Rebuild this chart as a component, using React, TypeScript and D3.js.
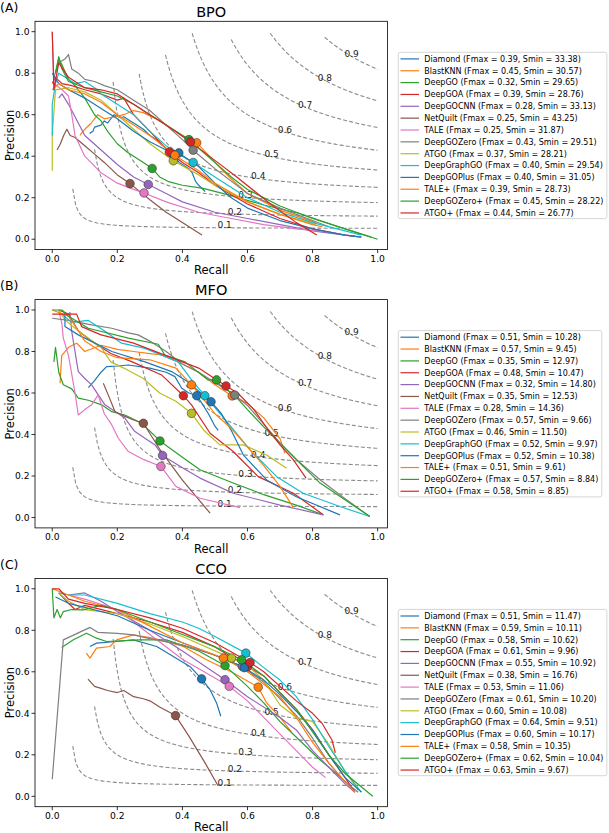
import React from "react";
import * as d3 from "d3";

const methods = ["Diamond","BlastKNN","DeepGO","DeepGOA","DeepGOCNN","NetQuilt","TALE","DeepGOZero","ATGO","DeepGraphGO","DeepGOPlus","TALE+","DeepGOZero+","ATGO+"];
const colors = ["#1f77b4","#ff7f0e","#2ca02c","#d62728","#9467bd","#8c564b","#e377c2","#7f7f7f","#bcbd22","#17becf","#1f77b4","#ff7f0e","#2ca02c","#d62728"];

const bpoFmax = ["0.39","0.45","0.32","0.39","0.28","0.25","0.25","0.43","0.37","0.40","0.40","0.39","0.45","0.44"];
const bpoSmin = ["33.38","30.57","29.65","28.76","33.13","43.25","31.87","29.51","28.21","29.54","31.05","28.73","28.22","26.77"];
const mfoFmax = ["0.51","0.57","0.35","0.48","0.32","0.35","0.28","0.57","0.46","0.52","0.52","0.51","0.57","0.58"];
const mfoSmin = ["10.28","9.45","12.97","10.47","14.80","12.53","14.36","9.66","11.50","9.97","10.38","9.61","8.84","8.85"];
const ccoFmax = ["0.51","0.59","0.58","0.61","0.55","0.38","0.53","0.61","0.60","0.64","0.60","0.58","0.62","0.63"];
const ccoSmin = ["11.47","10.11","10.62","9.96","10.92","16.76","11.06","10.20","10.08","9.51","10.17","10.35","10.04","9.67"];

const ticks = [0, 0.2, 0.4, 0.6, 0.8, 1.0];
const isoF = [0.1, 0.2, 0.3, 0.4, 0.5, 0.6, 0.7, 0.8, 0.9];
const isoStartRecall = [0.063, 0.13, 0.187, 0.267, 0.348, 0.43, 0.55, 0.67, 0.837];
const isoLabelRecall = [0.53, 0.561, 0.594, 0.633, 0.674, 0.715, 0.777, 0.838, 0.92];

type P = [number, number];

const bpoDots: P[] = [[0.37,0.41],[0.444,0.465],[0.307,0.341],[0.36,0.42],[0.295,0.264],[0.239,0.268],[0.282,0.223],[0.433,0.429],[0.372,0.378],[0.433,0.37],[0.389,0.416],[0.377,0.405],[0.42,0.48],[0.425,0.469]];
const mfoDots: P[] = [[0.444,0.587],[0.553,0.586],[0.331,0.369],[0.403,0.587],[0.339,0.299],[0.28,0.454],[0.334,0.246],[0.561,0.59],[0.428,0.502],[0.469,0.587],[0.488,0.558],[0.428,0.639],[0.505,0.663],[0.534,0.634]];
const ccoDots: P[] = [[0.459,0.566],[0.633,0.526],[0.531,0.63],[0.6,0.625],[0.531,0.562],[0.379,0.389],[0.544,0.53],[0.584,0.626],[0.551,0.666],[0.595,0.69],[0.59,0.62],[0.526,0.666],[0.582,0.658],[0.608,0.645]];

const bpoCurves: P[][] = [
  // Diamond
  [[0.115,0.51],[0.125,0.52],[0.13,0.54],[0.15,0.55],[0.16,0.57],[0.17,0.56],[0.19,0.6],[0.21,0.585],[0.22,0.59],[0.24,0.57],[0.26,0.55],[0.28,0.53],[0.3,0.5],[0.32,0.48],[0.34,0.45],[0.37,0.41],[0.39,0.37],[0.4,0.36],[0.42,0.34],[0.43,0.32],[0.44,0.28],[0.45,0.26],[0.47,0.23]],
  // BlastKNN
  [[0.085,0.5],[0.1,0.53],[0.12,0.56],[0.14,0.6],[0.16,0.58],[0.19,0.59],[0.22,0.6],[0.25,0.62],[0.28,0.61],[0.32,0.58],[0.36,0.54],[0.4,0.5],[0.444,0.465],[0.5,0.37],[0.55,0.29],[0.6,0.22],[0.7,0.14],[0.81,0.08]],
  // DeepGO
  [[0.01,0.8],[0.02,0.87],[0.03,0.84],[0.05,0.77],[0.07,0.74],[0.1,0.68],[0.13,0.6],[0.15,0.57],[0.17,0.52],[0.2,0.46],[0.23,0.42],[0.25,0.4],[0.28,0.37],[0.307,0.341],[0.33,0.3],[0.36,0.276],[0.4,0.26],[0.464,0.245],[0.55,0.21],[0.65,0.165],[0.76,0.124],[0.88,0.06],[0.98,0.01]],
  // DeepGOA
  [[0.0,0.75],[0.01,0.78],[0.03,0.75],[0.06,0.74],[0.1,0.72],[0.15,0.7],[0.2,0.67],[0.22,0.68],[0.25,0.6],[0.3,0.52],[0.36,0.42],[0.4,0.37],[0.45,0.32],[0.5,0.26],[0.6,0.17],[0.7,0.1],[0.8,0.05],[0.9,0.02],[0.93,0.015]],
  // DeepGOCNN
  [[0.02,0.68],[0.03,0.7],[0.05,0.65],[0.08,0.56],[0.1,0.5],[0.15,0.43],[0.2,0.36],[0.25,0.3],[0.295,0.264],[0.35,0.22],[0.4,0.18],[0.5,0.13],[0.6,0.1],[0.7,0.07],[0.8,0.04],[0.9,0.02],[0.95,0.01]],
  // NetQuilt
  [[0.015,0.43],[0.025,0.46],[0.035,0.5],[0.045,0.53],[0.055,0.5],[0.07,0.49],[0.1,0.45],[0.13,0.41],[0.16,0.37],[0.2,0.31],[0.239,0.268],[0.3,0.19],[0.35,0.13],[0.4,0.08],[0.46,0.02]],
  // TALE
  [[0.0,1.0],[0.005,0.75],[0.03,0.72],[0.05,0.69],[0.06,0.6],[0.07,0.5],[0.1,0.4],[0.15,0.32],[0.2,0.27],[0.25,0.24],[0.282,0.223],[0.35,0.18],[0.45,0.13],[0.55,0.1],[0.65,0.07],[0.75,0.05],[0.82,0.04]],
  // DeepGOZero
  [[0.005,0.78],[0.02,0.85],[0.04,0.87],[0.05,0.89],[0.06,0.82],[0.08,0.8],[0.1,0.77],[0.13,0.76],[0.16,0.74],[0.2,0.72],[0.25,0.67],[0.3,0.62],[0.35,0.55],[0.4,0.48],[0.433,0.429],[0.5,0.34],[0.55,0.28],[0.6,0.22],[0.7,0.15],[0.8,0.09],[0.85,0.06]],
  // ATGO
  [[0.0,0.33],[0.0,0.5],[0.01,0.72],[0.05,0.73],[0.1,0.71],[0.15,0.67],[0.2,0.6],[0.25,0.53],[0.3,0.46],[0.372,0.378],[0.45,0.31],[0.5,0.26],[0.6,0.18],[0.7,0.12],[0.81,0.07]],
  // DeepGraphGO
  [[0.0,0.5],[0.0,0.65],[0.01,0.75],[0.02,0.8],[0.04,0.78],[0.07,0.75],[0.1,0.76],[0.13,0.73],[0.15,0.7],[0.2,0.65],[0.25,0.6],[0.3,0.52],[0.35,0.45],[0.4,0.4],[0.433,0.37],[0.5,0.3],[0.6,0.2],[0.7,0.13],[0.8,0.08],[0.9,0.04],[0.95,0.02]],
  // DeepGOPlus
  [[0.0,0.8],[0.02,0.75],[0.05,0.72],[0.1,0.68],[0.15,0.63],[0.2,0.58],[0.25,0.52],[0.3,0.47],[0.35,0.43],[0.389,0.416],[0.45,0.35],[0.5,0.27],[0.55,0.2],[0.6,0.15],[0.7,0.09],[0.8,0.05],[0.9,0.02],[0.95,0.01]],
  // TALE+
  [[0.0,0.72],[0.02,0.75],[0.05,0.72],[0.1,0.7],[0.15,0.66],[0.2,0.6],[0.25,0.55],[0.3,0.5],[0.377,0.405],[0.45,0.33],[0.5,0.27],[0.6,0.18],[0.7,0.12],[0.8,0.07],[0.83,0.06]],
  // DeepGOZero+
  [[0.01,0.8],[0.02,0.88],[0.03,0.82],[0.05,0.76],[0.1,0.73],[0.15,0.71],[0.2,0.69],[0.25,0.65],[0.3,0.6],[0.35,0.55],[0.42,0.48],[0.5,0.37],[0.55,0.3],[0.6,0.24],[0.7,0.16],[0.8,0.1],[0.9,0.05],[1.0,0.0]],
  // ATGO+
  [[0.0,1.0],[0.005,0.72],[0.02,0.85],[0.05,0.78],[0.1,0.73],[0.15,0.72],[0.2,0.7],[0.25,0.65],[0.3,0.6],[0.35,0.55],[0.425,0.469],[0.5,0.38],[0.567,0.3],[0.669,0.172],[0.75,0.08],[0.813,0.02]],
];

const mfoCurves: P[][] = [
  // Diamond
  [[0.111,0.626],[0.13,0.66],[0.15,0.7],[0.167,0.727],[0.2,0.73],[0.234,0.735],[0.3,0.72],[0.35,0.7],[0.377,0.679],[0.398,0.623],[0.42,0.6],[0.444,0.587],[0.46,0.55],[0.48,0.5],[0.5,0.44],[0.51,0.42]],
  // BlastKNN
  [[0.024,0.647],[0.029,0.78],[0.05,0.82],[0.075,0.84],[0.1,0.8],[0.15,0.83],[0.2,0.81],[0.25,0.8],[0.3,0.79],[0.336,0.783],[0.4,0.74],[0.45,0.7],[0.5,0.64],[0.553,0.586],[0.6,0.55],[0.65,0.48],[0.7,0.38],[0.715,0.31]],
  // DeepGO
  [[0.005,0.75],[0.01,0.82],[0.02,0.7],[0.034,0.64],[0.06,0.62],[0.08,0.575],[0.111,0.565],[0.152,0.543],[0.183,0.51],[0.223,0.494],[0.275,0.454],[0.331,0.369],[0.4,0.29],[0.454,0.23],[0.55,0.17],[0.65,0.11],[0.75,0.06],[0.833,0.013]],
  // DeepGOA
  [[0.02,1.0],[0.05,0.98],[0.08,0.9],[0.12,0.85],[0.18,0.79],[0.244,0.751],[0.336,0.687],[0.403,0.587],[0.428,0.543],[0.485,0.406],[0.556,0.318],[0.633,0.197],[0.741,0.117],[0.833,0.013]],
  // DeepGOCNN
  [[0.054,0.99],[0.06,0.895],[0.08,0.703],[0.1,0.67],[0.121,0.639],[0.162,0.543],[0.223,0.479],[0.254,0.414],[0.316,0.35],[0.339,0.299],[0.4,0.24],[0.454,0.19],[0.556,0.117],[0.7,0.06],[0.833,0.013]],
  // NetQuilt
  [[0.157,0.647],[0.172,0.591],[0.193,0.51],[0.22,0.49],[0.25,0.47],[0.28,0.454],[0.33,0.33],[0.4,0.18],[0.485,0.021]],
  // TALE
  [[0.02,1.0],[0.03,0.93],[0.034,0.864],[0.05,0.78],[0.07,0.6],[0.08,0.494],[0.1,0.52],[0.121,0.543],[0.141,0.591],[0.16,0.5],[0.183,0.446],[0.203,0.382],[0.234,0.318],[0.28,0.28],[0.334,0.246],[0.38,0.15],[0.454,0.093],[0.577,0.048]],
  // DeepGOZero
  [[0.0,0.96],[0.05,0.95],[0.121,0.928],[0.183,0.912],[0.234,0.89],[0.264,0.88],[0.3,0.85],[0.35,0.8],[0.4,0.74],[0.45,0.7],[0.5,0.65],[0.561,0.59],[0.6,0.54],[0.65,0.45],[0.7,0.36],[0.75,0.28],[0.823,0.182],[0.9,0.09],[0.976,0.005]],
  // ATGO
  [[0.02,1.0],[0.04,0.95],[0.08,0.9],[0.15,0.82],[0.18,0.75],[0.22,0.72],[0.28,0.67],[0.33,0.6],[0.38,0.56],[0.428,0.502],[0.465,0.422],[0.515,0.35],[0.587,0.35],[0.66,0.3],[0.72,0.238]],
  // DeepGraphGO
  [[0.03,0.98],[0.06,0.94],[0.11,0.95],[0.16,0.9],[0.213,0.84],[0.285,0.815],[0.387,0.75],[0.43,0.66],[0.469,0.587],[0.5,0.53],[0.541,0.454],[0.608,0.326],[0.69,0.197],[0.771,0.117],[0.884,0.053],[0.976,0.005]],
  // DeepGOPlus
  [[0.039,0.99],[0.039,0.92],[0.08,0.88],[0.183,0.8],[0.285,0.75],[0.367,0.703],[0.42,0.65],[0.488,0.558],[0.52,0.5],[0.55,0.42],[0.587,0.302],[0.659,0.181],[0.75,0.1],[0.884,0.013]],
  // TALE+
  [[0.0,1.0],[0.05,0.97],[0.08,0.9],[0.1,0.85],[0.15,0.8],[0.2,0.77],[0.3,0.76],[0.38,0.72],[0.428,0.639],[0.46,0.58],[0.5,0.5],[0.55,0.43],[0.6,0.34],[0.65,0.25],[0.7,0.15],[0.74,0.05]],
  // DeepGOZero+
  [[0.0,1.0],[0.03,1.0],[0.05,0.97],[0.111,0.912],[0.234,0.864],[0.326,0.835],[0.346,0.783],[0.408,0.75],[0.479,0.663],[0.505,0.663],[0.515,0.64],[0.56,0.59],[0.6,0.52],[0.659,0.422],[0.741,0.294],[0.823,0.166],[0.976,0.005]],
  // ATGO+
  [[0.0,0.98],[0.075,0.98],[0.09,0.92],[0.15,0.88],[0.25,0.84],[0.35,0.78],[0.45,0.72],[0.534,0.634],[0.57,0.6],[0.62,0.52],[0.66,0.43],[0.7,0.35],[0.74,0.28],[0.78,0.19]],
];

const ccoCurves: P[][] = [
  // Diamond
  [[0.116,0.722],[0.136,0.738],[0.198,0.746],[0.249,0.754],[0.321,0.722],[0.372,0.674],[0.423,0.626],[0.459,0.566],[0.485,0.514],[0.505,0.45],[0.518,0.386]],
  // BlastKNN
  [[0.105,0.69],[0.116,0.666],[0.136,0.714],[0.177,0.722],[0.198,0.754],[0.249,0.778],[0.31,0.762],[0.403,0.722],[0.474,0.658],[0.55,0.6],[0.633,0.526],[0.659,0.45],[0.7,0.38],[0.735,0.31]],
  // DeepGO
  [[0.029,0.717],[0.065,0.754],[0.105,0.786],[0.136,0.762],[0.167,0.746],[0.269,0.754],[0.351,0.754],[0.45,0.7],[0.531,0.63],[0.6,0.53],[0.65,0.45],[0.7,0.36],[0.76,0.27],[0.82,0.18],[0.88,0.1],[0.93,0.03]],
  // DeepGOA
  [[0.02,0.98],[0.05,0.93],[0.07,0.9],[0.1,0.92],[0.2,0.88],[0.3,0.84],[0.4,0.79],[0.5,0.72],[0.6,0.625],[0.65,0.58],[0.7,0.5],[0.75,0.42],[0.8,0.32],[0.85,0.2],[0.9,0.09],[0.93,0.02]],
  // DeepGOCNN
  [[0.05,0.97],[0.1,0.98],[0.15,0.94],[0.2,0.89],[0.3,0.8],[0.4,0.7],[0.531,0.562],[0.6,0.48],[0.7,0.38],[0.75,0.32],[0.8,0.22],[0.85,0.14],[0.9,0.06],[0.93,0.02]],
  // NetQuilt
  [[0.11,0.565],[0.13,0.53],[0.15,0.52],[0.17,0.51],[0.2,0.5],[0.22,0.51],[0.25,0.48],[0.28,0.47],[0.3,0.46],[0.33,0.43],[0.379,0.389],[0.42,0.29],[0.47,0.16],[0.51,0.05]],
  // TALE
  [[0.05,0.97],[0.1,0.95],[0.2,0.9],[0.3,0.78],[0.4,0.66],[0.544,0.53],[0.6,0.46],[0.65,0.38],[0.7,0.3],[0.75,0.22],[0.8,0.14],[0.84,0.09]],
  // DeepGOZero
  [[0.0,0.082],[0.034,0.754],[0.116,0.814],[0.14,0.79],[0.2,0.785],[0.25,0.778],[0.3,0.76],[0.4,0.73],[0.5,0.68],[0.584,0.626],[0.65,0.55],[0.7,0.47],[0.75,0.39],[0.8,0.28],[0.85,0.16],[0.9,0.07],[0.94,0.02]],
  // ATGO
  [[0.02,0.98],[0.05,0.94],[0.1,0.9],[0.2,0.88],[0.3,0.83],[0.4,0.77],[0.551,0.666],[0.6,0.63],[0.65,0.56],[0.7,0.44],[0.75,0.38],[0.8,0.36],[0.85,0.25],[0.9,0.12],[0.94,0.03]],
  // DeepGraphGO
  [[0.02,0.98],[0.05,0.97],[0.1,0.97],[0.2,0.93],[0.3,0.88],[0.4,0.84],[0.45,0.81],[0.5,0.77],[0.595,0.69],[0.65,0.62],[0.7,0.56],[0.75,0.48],[0.8,0.37],[0.85,0.24],[0.9,0.12],[0.95,0.02]],
  // DeepGOPlus
  [[0.01,0.96],[0.05,0.93],[0.1,0.91],[0.2,0.87],[0.3,0.8],[0.4,0.74],[0.5,0.68],[0.59,0.62],[0.65,0.56],[0.7,0.49],[0.75,0.41],[0.8,0.32],[0.85,0.2],[0.9,0.09],[0.95,0.02]],
  // TALE+
  [[0.0,1.0],[0.05,0.97],[0.1,0.94],[0.2,0.9],[0.3,0.82],[0.4,0.74],[0.526,0.666],[0.6,0.6],[0.7,0.48],[0.75,0.38],[0.8,0.26],[0.85,0.16],[0.9,0.07],[0.93,0.02]],
  // DeepGOZero+
  [[0.0,1.0],[0.005,0.86],[0.015,0.9],[0.025,0.86],[0.034,0.89],[0.06,0.9],[0.095,0.898],[0.15,0.92],[0.2,0.9],[0.3,0.84],[0.4,0.78],[0.5,0.72],[0.582,0.658],[0.65,0.58],[0.7,0.5],[0.75,0.42],[0.8,0.31],[0.85,0.2],[0.9,0.11],[0.985,0.0]],
  // ATGO+
  [[0.0,1.0],[0.02,1.0],[0.05,0.95],[0.1,0.93],[0.2,0.9],[0.3,0.86],[0.4,0.81],[0.5,0.74],[0.608,0.645],[0.65,0.6],[0.7,0.53],[0.75,0.46],[0.8,0.4],[0.83,0.35],[0.86,0.27],[0.87,0.21]],
];

const FONT = "DejaVu Sans, sans-serif";
const X0 = 35, X1 = 387.4;
const PH = 228.3;

function measure(text: string, size: number) {
  if (typeof document === "undefined") return text.length * size * 0.55;
  const c = document.createElement("canvas").getContext("2d");
  if (!c) return text.length * size * 0.55;
  c.font = `${size}px DejaVu Sans`;
  return c.measureText(text).width;
}

function Panel(props: { top: number; title: string; letter: string; curves: P[][]; dots: P[]; fmax: string[]; smin: string[]; id: string }) {
  const { top, title, letter, curves, dots, fmax, smin, id } = props;
  const x = d3.scaleLinear().domain([-0.053, 1.03]).range([X0, X1]);
  const y = d3.scaleLinear().domain([-0.05, 1.05]).range([top + PH, top]);
  const line = d3.line<P>().x((d) => x(d[0])).y((d) => y(d[1]));
  const bottom = top + PH;
  const mid = top + PH / 2;

  const isoPaths = isoF.map((f, i) => {
    const r0 = isoStartRecall[i];
    const pts: P[] = d3.range(0, 101).map((k) => {
      const r = r0 + ((1 - r0) * k) / 100;
      return [r, (f * r) / (2 * r - f)] as P;
    });
    return pts;
  });

  const labels = methods.map((m, i) => `${m} (Fmax = ${fmax[i]}, Smin = ${smin[i]})`);
  const maxW = Math.max(...labels.map((l) => measure(l, 8)));
  const lgX = 398.3;
  const lgH = 166.3;
  const lgTop = mid - lgH / 2;
  const lgW = 424.3 - lgX + maxW + 3.5;
  const rowH = 11.85;

  return (
    <g>
      <defs>
        <clipPath id={`clip-${id}`}>
          <rect x={X0} y={top} width={X1 - X0} height={PH} />
        </clipPath>
      </defs>
      <text x={0} y={top - 9.5} fontFamily={FONT} fontSize={12.5}>{letter}</text>
      <text x={(X0 + X1) / 2} y={top - 4.5} fontFamily={FONT} fontSize={14.5} textAnchor="middle">{title}</text>
      <g clipPath={`url(#clip-${id})`}>
        {isoPaths.map((pts, i) => (
          <path key={"iso" + i} d={line(pts) || ""} fill="none" stroke="#8a8a8a" strokeWidth={1.1} strokeDasharray="4,2.2" />
        ))}
        {isoF.map((f, i) => {
          const r = isoLabelRecall[i];
          const p = (f * r) / (2 * r - f) + 0.012;
          return (
            <text key={"isol" + i} x={x(r)} y={y(p)} dy="0.35em" textAnchor="middle" fontFamily={FONT} fontSize={9} fill="#222">
              {f.toFixed(1)}
            </text>
          );
        })}
        {curves.map((c, i) => (
          <path key={"c" + i} d={line(c) || ""} fill="none" stroke={colors[i]} strokeWidth={1.2} strokeLinejoin="round" />
        ))}
        {dots.map((d, i) => (
          <circle key={"d" + i} cx={x(d[0])} cy={y(d[1])} r={4.3} fill={colors[i]} stroke="rgba(40,40,40,0.75)" strokeWidth={0.7} />
        ))}
      </g>
      <rect x={X0} y={top} width={X1 - X0} height={PH} fill="none" stroke="#000" strokeWidth={0.8} />
      {ticks.map((t) => (
        <g key={"xt" + t}>
          <line x1={x(t)} x2={x(t)} y1={bottom} y2={bottom + 3.5} stroke="#000" strokeWidth={0.8} />
          <text x={x(t)} y={bottom + 12.2} textAnchor="middle" fontFamily={FONT} fontSize={9.2}>{t.toFixed(1)}</text>
        </g>
      ))}
      {ticks.map((t) => (
        <g key={"yt" + t}>
          <line x1={X0 - 3.5} x2={X0} y1={y(t)} y2={y(t)} stroke="#000" strokeWidth={0.8} />
          <text x={X0 - 5.5} y={y(t)} dy="0.35em" textAnchor="end" fontFamily={FONT} fontSize={9.2}>{t.toFixed(1)}</text>
        </g>
      ))}
      <text x={(X0 + X1) / 2} y={bottom + 24.6} textAnchor="middle" fontFamily={FONT} fontSize={11.5}>Recall</text>
      <text transform={`translate(14,${mid}) rotate(-90)`} textAnchor="middle" fontFamily={FONT} fontSize={11.5}>Precision</text>
      <rect x={lgX} y={lgTop} width={lgW} height={lgH} rx={2} fill="#fff" fillOpacity={0.8} stroke="#cccccc" strokeWidth={0.8} />
      {labels.map((l, i) => {
        const cy = lgTop + 6.6 + i * rowH;
        return (
          <g key={"lg" + i}>
            <line x1={400.5} x2={419} y1={cy} y2={cy} stroke={colors[i]} strokeWidth={1.2} />
            <text x={424.3} y={cy} dy="0.35em" fontFamily={FONT} fontSize={8}>{l}</text>
          </g>
        );
      })}
    </g>
  );
}

export default function App() {
  return (
    <svg width={609} height={833} style={{ position: "absolute", left: 0, top: 0, background: "#fff" }}>
      <rect width={609} height={833} fill="#fff" />
      <Panel id="a" top={21.3} title="BPO" letter="(A)" curves={bpoCurves} dots={bpoDots} fmax={bpoFmax} smin={bpoSmin} />
      <Panel id="b" top={299.6} title="MFO" letter="(B)" curves={mfoCurves} dots={mfoDots} fmax={mfoFmax} smin={mfoSmin} />
      <Panel id="c" top={578.4} title="CCO" letter="(C)" curves={ccoCurves} dots={ccoDots} fmax={ccoFmax} smin={ccoSmin} />
    </svg>
  );
}
